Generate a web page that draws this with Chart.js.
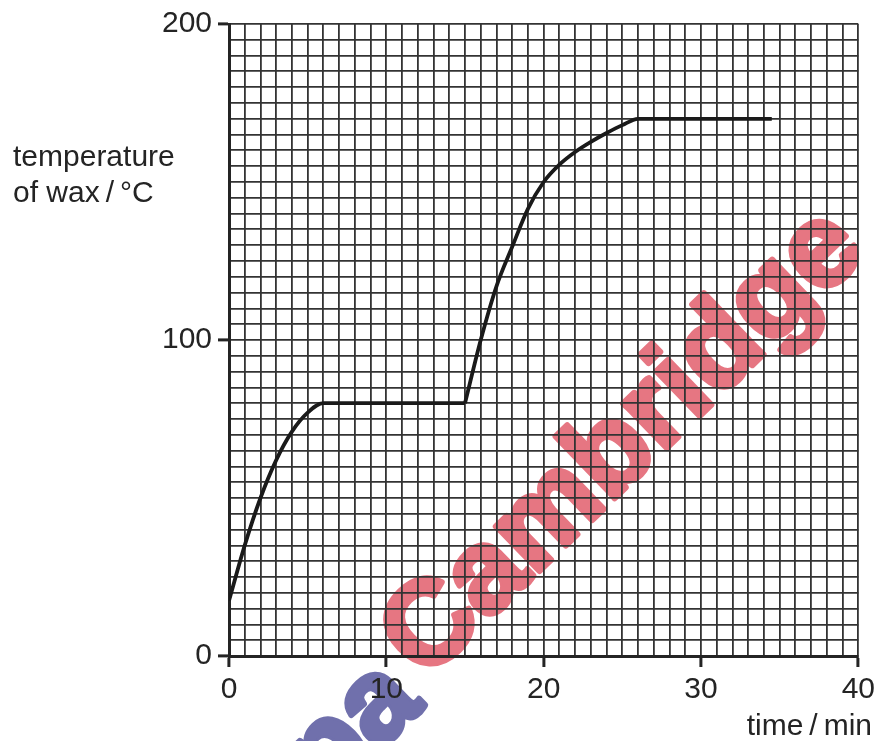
<!DOCTYPE html>
<html>
<head>
<meta charset="utf-8">
<script src="https://cdn.jsdelivr.net/npm/chart.js@4.4.1/dist/chart.umd.min.js"></script>
<style>
  html, body { margin: 0; padding: 0; background: #fff; }
  canvas { display: block; }
</style>
</head>
<body>
<canvas id="wax-chart" width="880" height="741"></canvas>
<script>
// heating curve of wax
const warmTimes = [0, 1, 2, 3, 4, 5, 6, 15];
const warmTemps = [17.5, 35, 50, 62, 71, 77, 80, 80];
const riseTimes = [15, 16, 17, 18, 19, 20, 21, 22, 23, 24, 25, 26, 34.5];
const riseTemps = [80, 100, 117, 129.5, 141.5, 150, 155.5, 159.5, 162.7, 165.5, 168, 170, 170];

const xTickLabels = [0, 10, 20, 30, 40];
const yTickLabels = [0, 100, 200];

const FONT = "'Liberation Sans', Arial, sans-serif";
const INK = '#242424';

function toPoints(xs, ys) {
  return xs.map((x, i) => ({ x: x, y: ys[i] }));
}

// axis titles sit horizontally, so draw them by hand
const axisTitles = {
  id: 'axisTitles',
  afterDraw(chart) {
    const ctx = chart.ctx;
    ctx.save();
    ctx.fillStyle = INK;
    ctx.font = '30px ' + FONT;
    ctx.textBaseline = 'alphabetic';
    ctx.textAlign = 'left';
    ctx.fillText('temperature', 13, 166);
    ctx.fillText('of wax\u2009/\u2009°C', 13, 202);
    ctx.textAlign = 'right';
    ctx.fillText('time\u2009/\u2009min', 872, 735);
    ctx.restore();
  }
};

// page background + the faint watermark under the grid
const watermark = {
  id: 'watermark',
  beforeDraw(chart) {
    const ctx = chart.ctx;
    ctx.save();
    ctx.fillStyle = '#fff';
    ctx.fillRect(0, 0, chart.width, chart.height);
    ctx.translate(624, 444);
    ctx.rotate(-44 * Math.PI / 180);
    ctx.font = 'bold 118px ' + FONT;
    ctx.textBaseline = 'middle';
    ctx.lineJoin = 'round';
    ctx.lineWidth = 6;
    const word = 'Cambridge';
    const w = ctx.measureText(word).width;
    ctx.textAlign = 'left';
    ctx.fillStyle = ctx.strokeStyle = 'rgb(230, 118, 130)';
    ctx.strokeText(word, -w / 2, 0);
    ctx.fillText(word, -w / 2, 0);
    ctx.textAlign = 'right';
    ctx.fillStyle = ctx.strokeStyle = 'rgb(112, 112, 172)';
    ctx.strokeText('pa', -w / 2 - 17, 18);
    ctx.fillText('pa', -w / 2 - 17, 18);
    ctx.restore();
  }
};

const lineStyle = {
  borderColor: '#1a1a1a',
  borderWidth: 3.8,
  pointRadius: 0,
  cubicInterpolationMode: 'monotone',
  fill: false
};

new Chart(document.getElementById('wax-chart'), {
  type: 'line',
  data: {
    datasets: [
      Object.assign({ label: 'warming', data: toPoints(warmTimes, warmTemps) }, lineStyle),
      Object.assign({ label: 'rising', data: toPoints(riseTimes, riseTemps) }, lineStyle)
    ]
  },
  options: {
    responsive: false,
    animation: false,
    events: [],
    layout: { padding: { top: 24, right: 18, left: 0, bottom: 0 } },
    plugins: {
      legend: { display: false },
      tooltip: { enabled: false }
    },
    scales: {
      x: {
        type: 'linear',
        min: 0,
        max: 40,
        afterFit: s => { s.height = 85; },
        border: { display: true, color: INK, width: 3 },
        grid: {
          color: '#333',
          lineWidth: 1.8,
          tickLength: 11,
          tickColor: c => xTickLabels.includes(c.tick.value) ? INK : 'rgba(0,0,0,0)',
          tickWidth: 3
        },
        ticks: {
          stepSize: 1,
          autoSkip: false,
          maxTicksLimit: 100,
          maxRotation: 0,
          padding: 5,
          color: INK,
          font: { family: FONT, size: 30 },
          callback: v => xTickLabels.includes(v) ? String(v) : ''
        }
      },
      y: {
        type: 'linear',
        min: 0,
        max: 200,
        afterFit: s => { s.width = 229; },
        border: { display: true, color: INK, width: 3 },
        grid: {
          color: '#333',
          lineWidth: 1.8,
          tickLength: 11,
          tickColor: c => yTickLabels.includes(c.tick.value) ? INK : 'rgba(0,0,0,0)',
          tickWidth: 3
        },
        ticks: {
          stepSize: 5,
          autoSkip: false,
          maxTicksLimit: 100,
          padding: 6,
          color: INK,
          font: { family: FONT, size: 30 },
          callback: v => yTickLabels.includes(v) ? String(v) : ''
        }
      }
    }
  },
  plugins: [watermark, axisTitles]
});
</script>
</body>
</html>
